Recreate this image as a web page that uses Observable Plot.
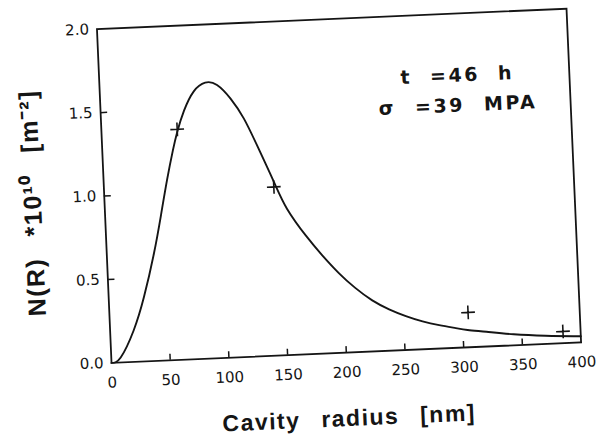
<!DOCTYPE html>
<html><head><meta charset="utf-8">
<script src="https://cdn.jsdelivr.net/npm/d3@7"></script>
<script src="https://cdn.jsdelivr.net/npm/@observablehq/plot@0.6"></script>
<style>
html,body{margin:0;padding:0;background:#fff;}
#chart{width:601px;height:441px;transform:rotate(-2.5deg);transform-origin:300.5px 220.5px;}
#chart svg{background:#fff;}
</style></head><body><div id="chart"></div>
<script>
// Fitted distribution curve (cavity radius nm, N(R) in 1e10 m^-2)
const curveR = [0, 8, 20, 30, 40, 47.5, 54, 60, 64.5, 71, 80, 90, 100, 111, 121.5, 132, 144.5, 155, 170, 183, 196.6, 210, 224, 238, 252, 266, 280, 294, 304, 320, 343, 370, 394, 400];
const curveN = [0, 0.03, 0.188, 0.385, 0.64, 0.87, 1.08, 1.254, 1.366, 1.49, 1.603, 1.652, 1.635, 1.55, 1.428, 1.26, 1.045, 0.875, 0.71, 0.59, 0.478, 0.385, 0.306, 0.248, 0.203, 0.167, 0.14, 0.118, 0.104, 0.088, 0.066, 0.049, 0.039, 0.037];
// Measured points (+)
const measR = [64.5, 144.5, 305, 385];
const measN = [1.38, 1.01, 0.209, 0.07];
// Axes
const xTicks = [0, 50, 100, 150, 200, 250, 300, 350, 400];
const yTicks = [0, 0.5, 1.0, 1.5, 2.0];
const yTickLabels = ["0.0", "0.5", "1.0", "1.5", "2.0"];
const xLabel = "Cavity radius [nm]";
const yLabel = "N(R) *10¹⁰ [m⁻²]";
const annotation = ["t =46 h", "σ =39 MPA"];

const curve = curveR.map((r, i) => ({r, n: curveN[i]}));
const meas = measR.map((r, i) => ({r, n: measN[i]}));
const ink = "#151515";

const plot = Plot.plot({
  width: 601, height: 441,
  marginLeft: 105, marginRight: 26, marginTop: 20, marginBottom: 87,
  x: {domain: [0, 400]},
  y: {domain: [0, 2]},
  style: {background: "#fff", color: ink},
  marks: [
    Plot.frame({stroke: ink, strokeWidth: 1.8}),
    Plot.ruleX(xTicks.slice(1, -1), {y1: 0, y2: 0.036, stroke: ink, strokeWidth: 1.5}),
    Plot.ruleY(yTicks.slice(1, -1), {x1: 0, x2: 6, stroke: ink, strokeWidth: 1.5}),
    Plot.axisX({ticks: xTicks, tickSize: 0, tickPadding: 14, tickFormat: d => String(d),
      fontSize: 15, fontFamily: "DejaVu Sans", label: null}),
    Plot.axisY({ticks: yTicks, tickSize: 0, tickPadding: 8, tickFormat: (d, i) => yTickLabels[i],
      fontSize: 15, fontFamily: "DejaVu Sans", label: null}),
    Plot.line(curve, {x: "r", y: "n", curve: "natural", stroke: ink, strokeWidth: 1.9}),
    Plot.dot(meas, {x: "r", y: "n", symbol: "plus", r: 4.5, stroke: ink, strokeWidth: 1.6}),
    Plot.text([annotation[0]], {text: d => d, frameAnchor: "top-left", dx: 301, dy: 62,
      textAnchor: "start", lineAnchor: "middle",
      fontSize: 19, fontWeight: "bold", fontFamily: "DejaVu Sans", fill: ink}),
    Plot.text([annotation[1]], {text: d => d, frameAnchor: "top-left", dx: 278, dy: 92,
      textAnchor: "start", lineAnchor: "middle",
      fontSize: 19, fontWeight: "bold", fontFamily: "DejaVu Sans", fill: ink}),
    Plot.text([xLabel], {text: d => d, frameAnchor: "bottom", dy: 66,
      textAnchor: "middle", lineAnchor: "middle",
      fontSize: 23, fontWeight: "bold", fontFamily: "Liberation Sans", fill: ink}),
    Plot.text([yLabel], {text: d => d, frameAnchor: "left", dx: -71.5, dy: 4, rotate: -90,
      textAnchor: "middle", lineAnchor: "middle",
      fontSize: 25, fontWeight: "bold", fontFamily: "Liberation Sans", fill: ink})
  ]
});

// letter/word spacing to mimic the wide lettering of the original
const svg = d3.select(plot);
function spacing(str, letter, word) {
  svg.selectAll("text").filter(function () { return this.textContent === str; })
    .style("letter-spacing", letter + "px").style("word-spacing", word + "px");
}
spacing(xLabel, 1.5, 13);
spacing(yLabel, 1.5, 13);
spacing(annotation[0], 2.5, 9);
spacing(annotation[1], 2.5, 10);
document.getElementById("chart").appendChild(plot);
</script>
</body></html>
